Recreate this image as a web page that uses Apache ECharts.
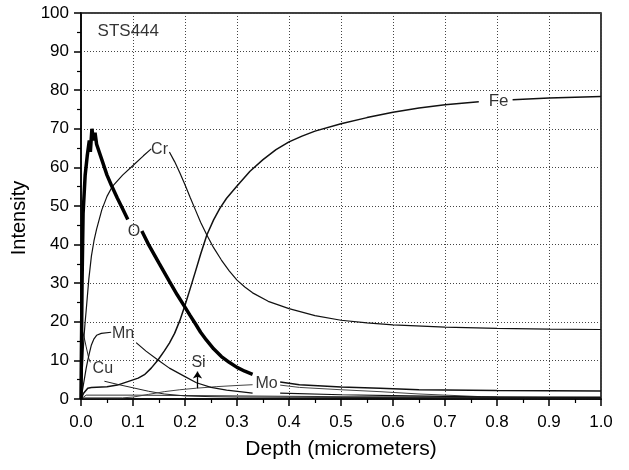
<!DOCTYPE html>
<html>
<head>
<meta charset="utf-8">
<script src="https://cdn.jsdelivr.net/npm/echarts@6/dist/echarts.min.js"></script>
<style>
html,body{margin:0;padding:0;background:#fff;}
#chart{width:629px;height:470px;}
</style>
</head>
<body>
<div id="chart"></div>
<script>
// ---- data (depth in micrometers, intensity) ----
const xTicks = [0.0,0.1,0.2,0.3,0.4,0.5,0.6,0.7,0.8,0.9,1.0];
const yTicks = [0,10,20,30,40,50,60,70,80,90,100];

const feData = [[0,0],[0.005,1.5],[0.013,2.8],[0.02,3],[0.05,3.2],[0.07,3.6],[0.09,4.5],[0.11,5.4],[0.122,6.3],[0.135,8],[0.148,10.1],[0.16,12.4],[0.17,14.5],[0.18,17],[0.19,20.3],[0.2,24.3],[0.21,28.6],[0.22,33],[0.23,37.5],[0.242,42.5],[0.255,46.4],[0.267,49.4],[0.28,52],[0.3,55.2],[0.325,59],[0.35,62],[0.375,64.6],[0.4,66.6],[0.425,68.1],[0.45,69.4],[0.5,71.3],[0.55,72.9],[0.6,74.3],[0.65,75.4],[0.7,76.2],[0.765,77],[0.785,'-'],[0.83,77.5],[0.9,78],[0.95,78.2],[1.0,78.4]];

const crData = [[0,0],[0.002,6],[0.004,12],[0.006,16.5],[0.008,20],[0.01,23],[0.015,31],[0.02,37],[0.025,41],[0.03,44],[0.04,49],[0.05,52.5],[0.06,55],[0.08,58],[0.1,60.5],[0.12,63],[0.135,64.8],[0.15,'-'],[0.17,64],[0.18,61.5],[0.19,58.6],[0.2,55.5],[0.21,52.2],[0.22,49],[0.23,45.8],[0.242,42.5],[0.255,39.2],[0.27,36],[0.285,33.2],[0.3,30.8],[0.315,29],[0.33,27.5],[0.36,25.3],[0.4,23.4],[0.45,21.6],[0.5,20.4],[0.55,19.7],[0.6,19.2],[0.7,18.6],[0.8,18.3],[0.9,18.1],[1.0,18]];

const oData = [[0,0],[0.002,30],[0.004,48],[0.008,58],[0.012,63],[0.016,67],[0.018,64],[0.021,70],[0.024,67],[0.027,69],[0.03,66],[0.04,62],[0.05,58],[0.058,55.5],[0.07,52],[0.08,49.3],[0.09,46.5],[0.1,'-'],[0.117,43.5],[0.13,40],[0.15,35.2],[0.17,30.5],[0.185,27],[0.199,24],[0.21,21.6],[0.22,19.5],[0.23,17.3],[0.241,15.3],[0.255,13],[0.27,11],[0.285,9.5],[0.3,8.2],[0.315,7.2],[0.33,6.4]];
const oTail = [[0.383,4.4],[0.42,3.7],[0.5,3.1],[0.575,2.8],[0.65,2.4],[0.8,2.2],[1.0,2.1]];

const mnData = [[0,0],[0.005,4],[0.01,8],[0.013,10],[0.016,11.8],[0.02,14],[0.025,15.6],[0.03,16.5],[0.039,17],[0.058,17.3],[0.08,'-'],[0.106,14.6],[0.125,12.4],[0.148,10.1],[0.17,8],[0.2,5.8],[0.222,4.2],[0.25,3],[0.28,2.3],[0.33,1.5],[0.355,'-'],[0.383,1.5],[0.5,1.1],[0.633,0.8],[0.8,0.5],[1.0,0.4]];

const cuData = [[0,0],[0.002,18],[0.006,16],[0.01,13.5],[0.015,10.5],[0.018,9.5],[0.03,'-'],[0.045,4.6],[0.07,3.8],[0.1,2.9],[0.13,2],[0.16,1.3],[0.2,0.8],[0.25,0.6],[0.3,0.5],[0.5,0.4],[1.0,0.3]];

const moData = [[0,0.3],[0.08,0.3],[0.1,0.5],[0.13,1.2],[0.16,1.9],[0.19,2.4],[0.222,2.8],[0.26,3.2],[0.3,3.5],[0.33,3.7],[0.355,'-'],[0.383,3.6],[0.42,3.0],[0.5,2.4],[0.575,1.9],[0.65,1.3],[0.77,0.6],[0.9,0.5],[1.0,0.5]];

const siData = [[0,0],[0.01,1],[0.1,1],[0.2,0.9],[0.3,0.8],[0.5,0.6],[1.0,0.4]];

const siArrow = [[0.224,7.1],[0.224,2.8]];

const labelNames = ['STS444','Fe','Cr','O','Mn','Cu','Si','Mo'];
const labelPos = [[0.091,95.2],[0.803,77],[0.151,64.6],[0.102,43.4],[0.081,17],[0.042,8],[0.226,9.4],[0.357,4.1]];

// ---- chart ----
const chart = echarts.init(document.getElementById('chart'));
const FONT = 'Liberation Sans, Arial, sans-serif';

function lineSeries(name, data, width, color) {
  return {
    name: name, type: 'line', data: data, showSymbol: false, symbol: 'none',
    smooth: false, connectNulls: false,
    lineStyle: {color: color, width: width}, z: 3, silent: true
  };
}

const siSeries = lineSeries('Si', siData, 1, '#333');
siSeries.markLine = {
  silent: true, symbol: ['arrow','none'], symbolSize: 7,
  label: {show: false},
  lineStyle: {color: '#000', width: 1.3, type: 'solid'},
  data: [[{coord: siArrow[0]}, {coord: siArrow[1]}]]
};

const series = [
  siSeries,
  lineSeries('Cu', cuData, 1, '#222'),
  lineSeries('Mo', moData, 1, '#444'),
  lineSeries('Mn', mnData, 1.2, '#111'),
  lineSeries('Fe', feData, 1.5, '#111'),
  lineSeries('Cr', crData, 1.2, '#111'),
  lineSeries('O', oData, 3.5, '#000'),
  lineSeries('O tail', oTail, 1.5, '#111'),
  {
    type: 'scatter', symbolSize: 0, silent: true, z: 10,
    data: labelNames.map((n, i) => ({name: n, value: labelPos[i]})),
    label: {
      show: true, position: 'inside', formatter: '{b}', color: '#000',
      fontFamily: FONT, fontSize: 16
    },
    labelLayout: {hideOverlap: false}
  }
];
series[series.length-1].data[0].label = {fontSize: 17};
series[series.length-1].data[1].label = {fontSize: 17};

chart.setOption({
  animation: false,
  backgroundColor: '#fff',
  grid: {left: 81, right: 28, top: 13, bottom: 71, show: true, borderColor: '#000', borderWidth: 1.5, backgroundColor: 'transparent'},
  xAxis: {
    type: 'value', min: 0, max: 1, interval: 0.1,
    name: 'Depth (micrometers)', nameLocation: 'middle', nameGap: 40,
    nameTextStyle: {fontFamily: FONT, fontSize: 21, color: '#000'},
    axisLine: {show: true, lineStyle: {color: '#000', width: 1.5}},
    axisTick: {show: true, length: 7, lineStyle: {color: '#000', width: 1.5}},
    minorTick: {show: true, splitNumber: 2, length: 4, lineStyle: {color: '#000', width: 1.2}},
    axisLabel: {fontFamily: FONT, fontSize: 17, color: '#000', margin: 15,
      formatter: v => v.toFixed(1)},
    splitLine: {show: true, lineStyle: {color: '#444', width: 1, type: [1, 2]}}
  },
  yAxis: {
    type: 'value', min: 0, max: 100, interval: 10,
    name: 'Intensity', nameLocation: 'middle', nameGap: 47,
    nameTextStyle: {fontFamily: FONT, fontSize: 20, color: '#000', padding: [0, 24, 0, 0]},
    axisLine: {show: true, lineStyle: {color: '#000', width: 1.5}},
    axisTick: {show: true, length: 7, lineStyle: {color: '#000', width: 1.5}},
    minorTick: {show: true, splitNumber: 2, length: 4, lineStyle: {color: '#000', width: 1.2}},
    axisLabel: {fontFamily: FONT, fontSize: 17, color: '#000', margin: 12},
    splitLine: {show: true, lineStyle: {color: '#444', width: 1, type: [1, 2]}}
  },
  series: series
});
</script>
</body>
</html>
